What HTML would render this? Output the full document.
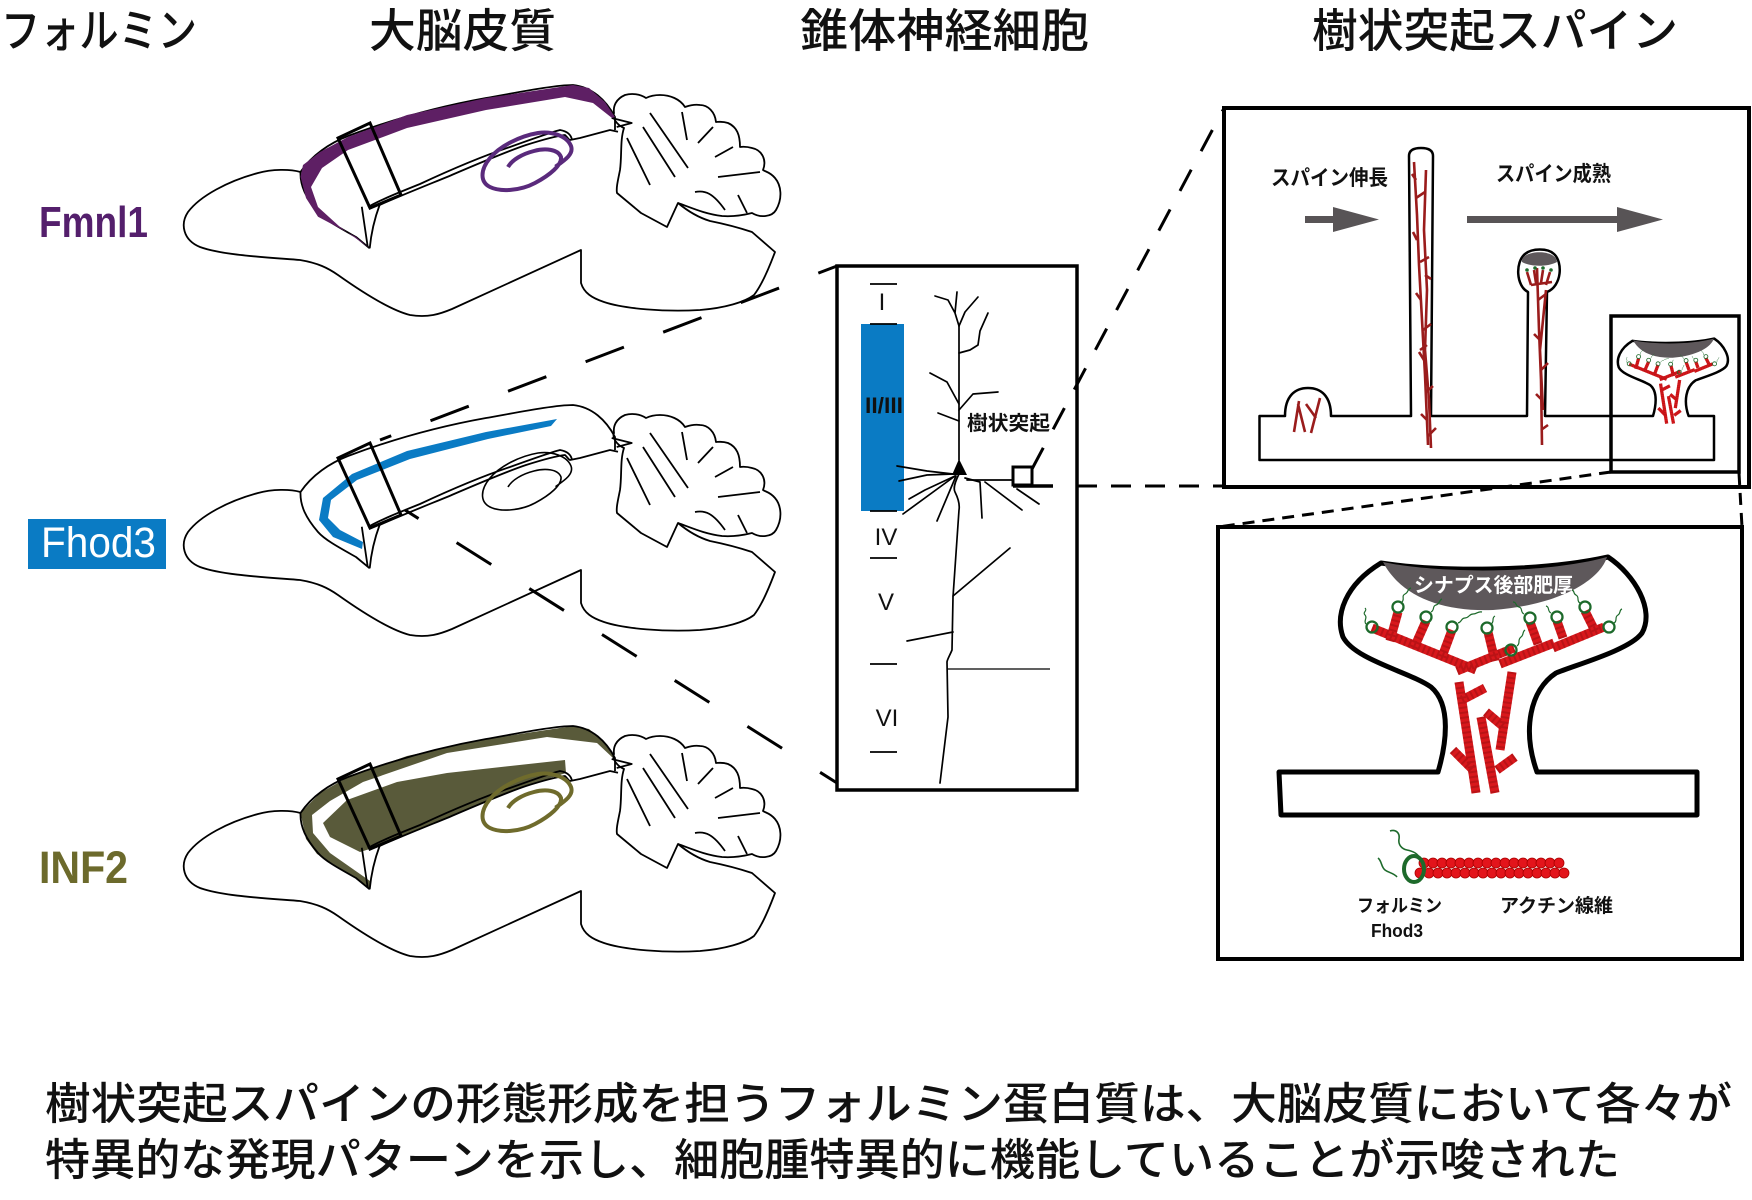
<!DOCTYPE html>
<html><head><meta charset="utf-8">
<style>
html,body{margin:0;padding:0;background:#fff;}
svg{display:block;}
.jp{font-family:"Liberation Sans","Noto Sans CJK JP",sans-serif;}
.en{font-family:"Liberation Sans",sans-serif;}
</style></head>
<body>
<svg width="1752" height="1200" viewBox="0 0 1752 1200" xmlns="http://www.w3.org/2000/svg">
<defs>
  <g id="bout" fill="none" stroke="#000" stroke-width="1.8" stroke-linejoin="round">
    <path d="M300.5,172 C290,169 272,169 258,173 C228,181 200,196 188,212 C180,224 183,240 200,247 C222,255 262,257 300,260 C318,263 328,268 338,275 C362,292 390,310 410,315 C428,318 440,314 452,309 L581,250 L581,283 C584,293 592,298 604,302 C625,309 665,312 700,310 C725,308 745,302 754,295 C762,285 769,268 775,252 L752,232 C740,228 725,224 710,221 C700,218 690,213 678,203"/>
    <path d="M369.7,248.3 L356,237 C340,228 325,220 318,212 C306,198 300,186 300.5,172 C312,155 330,143 348,136 C380,124 430,108 486,98 C520,92 555,85 573,85 C592,87 606,100 615,117 L615,130"/>
    <path d="M379.6,205 C395,198 420,188 447,177 C475,165 505,152 526,145 C545,139 556,136 565,135 C568,138 569,140 570,140 L580,138 L610,130 L618,131.7"/>
    <path d="M368,207 C380,200 400,192 420,184 C450,170 480,157 510,147 C535,138 552,132 560,130 C566,131 571,134 572,140"/>
    <path d="M361.8,206.7 L367.7,246.7 M379.6,205 C374,220 371,235 369.7,248.3"/>
    <path d="M611.7,118 L631.7,123 L616.7,127"/>
    <path d="M617,193 L641,213 L667,227 L678,203 C692,208 705,214 722,216 C735,217 748,214 752,213 C760,218 772,217 776,210 C783,198 781,185 775,178 C770,172 766,172 763,170 C767,160 762,150 752,148 C745,146 740,147 740,147 C740,135 737,127 728,123 C722,121 718,122 716,122 C715,112 708,105 700,105 C693,104 688,106 685,107 C680,99 670,95 660,95 C652,95 648,97 646,98 C640,94 632,93 625,95 C616,99 613,106 614,113 C612,118 617,125 624,128 C620,140 622,155 620,170 C618,180 616,188 617,193 Z"/>
    <path d="M627,138 L650,185 M643,127 L675,177 M650,113 L688,168 M682,112 L687,140 M698,143 L713,127 M715,157 L733,147 M718,177 L760,172 M695,192 C705,190 713,193 725,210 M738,195 L747,213"/>
  </g>
  <path id="spiral" d="M555.5,166.7 C565,160 574,154 571,146 C567,136 552,131 538,133 C520,136 500,146 490,158 C480,170 480,182 490,187 C500,192 520,191 535,183 C550,175 562,165 561,157 C558,149 545,148 534,151 C522,154 512,160 508,167"/>
  <polygon id="brect" points="338,138 370,123 401,195 370,208" fill="none" stroke="#000" stroke-width="3"/>

  <g id="filpaths">
    <path d="M1372,628 L1476,670"/>
    <path d="M1457,671 L1514,648"/>
    <path d="M1500,664 L1554,643"/>
    <path d="M1553,648 L1604,627"/>
    <path d="M1390,641 L1398,612"/>
    <path d="M1414,648 L1426,621"/>
    <path d="M1442,657 L1452,630"/>
    <path d="M1495,661 L1488,632"/>
    <path d="M1538,644 L1530,622"/>
    <path d="M1563,638 L1557,621"/>
    <path d="M1595,631 L1585,611"/>
    <path d="M1459,682 L1476,793"/>
    <path d="M1512,672 L1500,750"/>
    <path d="M1481,717 L1495,793"/>
    <path d="M1462,700 L1485,688"/>
    <path d="M1486,712 L1505,728"/>
    <path d="M1453,750 L1473,770"/>
    <path d="M1497,770 L1515,757"/>
  </g>
  <g id="act">
    <use href="#filpaths" fill="none" stroke="#d8181c" stroke-width="9"/>
    <use href="#filpaths" fill="none" stroke="#8f0c0f" stroke-width="9" stroke-dasharray="2 3" opacity="0.4"/>
    <g fill="none" stroke="#1d6a2b" stroke-width="2.3">
      <circle cx="1372" cy="627" r="5.5"/><circle cx="1398" cy="607" r="5.5"/>
      <circle cx="1426" cy="617" r="5.5"/><circle cx="1452" cy="627" r="5.5"/>
      <circle cx="1487" cy="628" r="5.5"/><circle cx="1511" cy="650" r="5.5"/>
      <circle cx="1530" cy="618" r="5.5"/><circle cx="1557" cy="617" r="5.5"/>
      <circle cx="1585" cy="607" r="5.5"/><circle cx="1609" cy="627" r="5.5"/>
    </g>
    <g fill="none" stroke="#1d6a2b" stroke-width="1.2">
      <path d="M1366,624 c-3,-3 2,-6 -1,-9 c-3,-3 3,-4 0,-7"/>
      <path d="M1402,602 c3,-3 -1,-6 3,-8 c4,-2 2,-5 6,-6"/>
      <path d="M1431,612 c4,-2 1,-6 5,-7 c4,-1 3,-5 6,-6"/>
      <path d="M1458,623 c4,-1 3,-5 7,-5 c4,0 4,-4 8,-4 c4,0 5,-3 9,-2"/>
      <path d="M1491,624 c4,-2 0,-6 4,-8"/>
      <path d="M1517,646 c4,-3 0,-6 4,-9 c3,-2 1,-5 4,-7"/>
      <path d="M1524,614 c-4,-2 -1,-6 -5,-7 c-4,-1 -2,-5 -6,-5"/>
      <path d="M1551,613 c-4,-2 -1,-6 -5,-7"/>
      <path d="M1580,603 c-4,-2 0,-6 -4,-8 c-3,-1 -1,-4 -4,-5"/>
      <path d="M1614,623 c4,-2 0,-6 4,-8 c3,-2 1,-5 4,-6"/>
    </g>
  </g>
</defs>

<!-- Titles -->
<g class="jp" font-size="46" font-weight="500" fill="#111">
  <text x="1" y="47" textLength="196" lengthAdjust="spacingAndGlyphs">フォルミン</text>
  <text x="369" y="47" textLength="187" lengthAdjust="spacingAndGlyphs">大脳皮質</text>
  <text x="800" y="47" textLength="289" lengthAdjust="spacingAndGlyphs">錐体神経細胞</text>
  <text x="1312" y="47" textLength="366" lengthAdjust="spacingAndGlyphs">樹状突起スパイン</text>
</g>

<!-- Side labels -->
<text class="en" x="39" y="237" font-size="44" font-weight="bold" fill="#541f6c" textLength="109" lengthAdjust="spacingAndGlyphs">Fmnl1</text>
<rect x="28" y="519" width="138" height="50" fill="#0a7bc4"/>
<text class="en" x="41" y="557" font-size="43" fill="#fff" textLength="115" lengthAdjust="spacingAndGlyphs">Fhod3</text>
<text class="en" x="39" y="883" font-size="45" font-weight="bold" fill="#6c6a2c" textLength="89" lengthAdjust="spacingAndGlyphs">INF2</text>

<!-- Brain 1 -->
<g>
  <use href="#bout"/>
  <polygon fill="#5e1f64" points="369.7,248.3 355.8,236.7 318,216.7 306,198 300.5,176.7 303,165 320,152 348,137 407,115 486,98 573,85 589,88 605,102 615,117 612,118 593,103 565,97 486,110 407,128 348,150 322,168 311,187 318,207 340,227 368,247"/>
  <use href="#spiral" fill="none" stroke="#5a2a7c" stroke-width="4"/>
  <use href="#brect"/>
</g>

<!-- Brain 2 -->
<g transform="translate(0,320)">
  <use href="#bout"/>
  <polygon fill="#0a7bc4" points="557,99 486,112 407,131 352,154 323,178 319,200 333,217 362,229 363,222 340,210 328,198 331,180 357,160 410,139 488,119 551,106"/>
  <use href="#spiral" fill="none" stroke="#000" stroke-width="1.6"/>
  <use href="#brect"/>
</g>

<!-- Brain 3 -->
<g transform="translate(0,641)">
  <polygon fill="#595a3a" points="369.7,248.3 356,237 317,213 306,198 300.5,172 320,152 348,136 407,115 486,98 573,85 589,88 605,102 615,117 613,117 597,102 547,96 447,112 363,141 330,160 312,174 313,192 330,212 370,240"/>
  <polygon fill="#595a3a" points="565,119 447,132 397,141 347,159 323,182 330,196 360,211 379.6,205 407,193 447,177 486,160 526,145 566,132"/>
  <use href="#bout"/>
  <use href="#spiral" fill="none" stroke="#6f6b2c" stroke-width="4"/>
  <use href="#brect"/>
</g>

<!-- Dashed lines brain -> neuron -->
<line x1="837" y1="266" x2="380" y2="440" stroke="#000" stroke-width="3" stroke-dasharray="41 42" stroke-dashoffset="21"/>
<line x1="837" y1="783" x2="405" y2="510" stroke="#000" stroke-width="3" stroke-dasharray="41 45" stroke-dashoffset="21"/>

<!-- Neuron box -->
<rect x="837" y="266" width="240" height="524" fill="none" stroke="#000" stroke-width="3.5"/>
<rect x="861" y="324" width="43" height="187" fill="#0a7bc4"/>
<g stroke="#000" stroke-width="1.8">
  <line x1="870" y1="284" x2="897" y2="284"/>
  <line x1="870" y1="324" x2="897" y2="324"/>
  <line x1="870" y1="511" x2="897" y2="511"/>
  <line x1="870" y1="558" x2="897" y2="558"/>
  <line x1="870" y1="664" x2="897" y2="664"/>
  <line x1="870" y1="752" x2="897" y2="752"/>
</g>
<g class="en" font-size="24" fill="#111" text-anchor="middle">
  <text x="882" y="310">I</text>
  <text x="886" y="545">IV</text>
  <text x="886" y="610">V</text>
  <text x="887" y="726">VI</text>
</g>
<text class="en" x="865" y="413" font-size="22" font-weight="bold" fill="#111" textLength="38" lengthAdjust="spacingAndGlyphs">II/III</text>
<g fill="none" stroke="#000" stroke-width="1.7" stroke-linecap="round" stroke-linejoin="round">
  <path d="M959,460 L959,326"/>
  <path d="M959,326 L955,313 L948,300 L935,296 M955,313 L957,292"/>
  <path d="M959,326 L965,312 L978,297"/>
  <path d="M959,353 L970,350 L978,345 L980,331 L988,313"/>
  <path d="M959,404 L947,382 L930,373"/>
  <path d="M959,410 L973,394 L998,392"/>
  <path d="M959,421 L938,413"/>
  <path d="M953,474 L927,471 L897,466"/>
  <path d="M953,474 L927,475 L899,481"/>
  <path d="M955,476 L925,490 L909,499"/>
  <path d="M955,476 L903,514"/>
  <path d="M956,476 L937,521"/>
  <path d="M965,478 L980,482 L982,518"/>
  <path d="M967,480 L1013,480"/>
  <path d="M985,482 L1022,510"/>
  <path d="M1017,489 L1039,504"/>
  <path d="M959,474 C955,482 953,488 955,492 C958,498 960,504 959,510 L953,597 L952,650 C950,655 947,660 947,662 L948,717 L940,783"/>
  <path d="M953,596 L1010,548"/>
  <path d="M953,632 L907,641"/>
</g>
<line x1="947" y1="669" x2="1050" y2="669" stroke="#000" stroke-width="1.3"/>
<path d="M959,459 L952,475 L967,475 Z" fill="#000"/>
<rect x="1013" y="467" width="19" height="18" fill="none" stroke="#000" stroke-width="3"/>
<line x1="1013" y1="486" x2="1053" y2="486" stroke="#000" stroke-width="3.5"/>
<text class="jp" x="967" y="430" font-size="20" font-weight="bold" fill="#111" textLength="83" lengthAdjust="spacingAndGlyphs">樹状突起</text>

<!-- dashed neuron -> spine box -->
<line x1="1032" y1="469" x2="1223" y2="110" stroke="#000" stroke-width="3" stroke-dasharray="24 21"/>
<line x1="1077" y1="486" x2="1224" y2="486" stroke="#000" stroke-width="3" stroke-dasharray="20 14"/>

<!-- Spine box 1 -->
<rect x="1224" y="108" width="525" height="379" fill="none" stroke="#000" stroke-width="4"/>
<g class="jp" font-size="21" font-weight="bold" fill="#111">
  <text x="1271" y="185" textLength="117" lengthAdjust="spacingAndGlyphs">スパイン伸長</text>
  <text x="1496" y="181" textLength="115" lengthAdjust="spacingAndGlyphs">スパイン成熟</text>
</g>
<polygon fill="#585456" points="1305,216 1333,216 1333,207 1379,219.5 1333,232 1333,223 1305,223"/>
<polygon fill="#585456" points="1467,216 1617,216 1617,207 1663,219.5 1617,232 1617,223 1467,223"/>
<path fill="#fff" stroke="#000" stroke-width="2.5" stroke-linejoin="round" d="M1259.5,416 L1285,416 C1285,396 1295,388 1308,388 C1321,388 1331,396 1331,416 L1411,416 L1409,156 C1409,150 1414,148 1421,148 C1428,148 1433,150 1433,156 L1431,416 L1527,416 L1528,292 C1516,286 1515,262 1525,254 C1532,248 1548,248 1554,254 C1563,262 1562,286 1547,292 L1545,416 L1653,416 C1655.9,406.3 1658,391.9 1650.5,385.4 C1642.9,380 1623.1,375.7 1618.8,367.4 C1615.9,359.5 1619.5,348.7 1632.5,340.8 C1653.7,344 1689.7,344 1714.2,338.6 C1723.9,345.1 1731.1,357.7 1726.4,366 C1722.1,372.1 1702.3,377.5 1695.5,380.4 C1686.1,386.5 1683.2,400.9 1688.6,416 L1714,416 L1714,460 L1259.5,460 Z"/>
<path fill="#5e585b" d="M1522,262 C1520,250 1556,248 1557,262 C1548,267 1530,267 1522,262 Z"/>
<g transform="translate(1135.3,138.1) scale(0.36)">
  <path fill="#5e585b" d="M1383,562 C1440,574 1545,574 1607,557 C1600,580 1560,605 1493,610 C1440,612 1400,595 1383,562 Z"/>
  <use href="#act"/>
</g>
<g fill="none" stroke="#9a1c1c" stroke-width="2.6">
  <path d="M1294,432 L1299,401 M1305,432 L1298,404 M1311,433 L1320,398 M1316,418 L1306,404"/>
  <path d="M1414,162 L1417,215 L1419,265 L1422,320 L1425,375 L1428,445"/>
  <path d="M1426,170 L1424,230 L1427,290 L1425,350 L1429,400 L1431,448"/>
  <path d="M1416,198 l9,-6 M1417,240 l-4,-8 M1420,262 l9,-5 M1421,300 l-5,-7 M1423,330 l8,-6 M1424,360 l-5,-8 M1426,392 l7,-6 M1427,420 l-6,-6 M1428,436 l8,-8 M1425,275 l6,4 M1427,345 l-7,5 M1416,180 l-4,-6"/>
  <path d="M1537,268 L1539,330 L1541,380 L1542,445 M1546,290 L1540,350 L1543,410"/>
  <path d="M1538,300 l8,-6 M1540,340 l-6,-6 M1541,370 l7,-7 M1542,400 l-6,-6 M1541,430 l7,-5 M1527,272 L1531,285 M1534,270 L1536,283 M1543,270 L1541,283 M1550,272 L1546,285 M1531,285 L1552,282"/>
</g>
<g fill="#1d6a2b"><circle cx="1527" cy="270" r="1.8"/><circle cx="1535" cy="268" r="1.8"/><circle cx="1543" cy="268" r="1.8"/><circle cx="1551" cy="270" r="1.8"/></g>
<rect x="1611" y="316" width="128" height="156" fill="none" stroke="#000" stroke-width="3.5"/>

<!-- dashed to bottom box -->
<line x1="1611" y1="472" x2="1218" y2="527" stroke="#000" stroke-width="3" stroke-dasharray="12 8"/>
<line x1="1739" y1="473" x2="1742" y2="527" stroke="#000" stroke-width="3" stroke-dasharray="12 8"/>

<!-- Spine box 2 -->
<rect x="1218" y="527" width="524" height="432" fill="none" stroke="#000" stroke-width="4"/>
<path fill="#fff" stroke="#000" stroke-width="5" stroke-linejoin="round" d="M1279,772 L1438,772 C1446,745 1452,705 1431,687 C1410,672 1355,660 1343,637 C1335,615 1345,585 1381,563 C1440,572 1540,572 1608,557 C1635,575 1655,610 1642,633 C1630,650 1575,665 1556,673 C1530,690 1522,730 1537,772 L1697,772 L1697,815 L1281,815 Z"/>
<path fill="#5e585b" d="M1383,562 C1440,574 1545,574 1607,557 C1600,580 1560,605 1493,610 C1440,612 1400,595 1383,562 Z"/>
<text class="jp" x="1414" y="592" font-size="20" font-weight="bold" fill="#fff" textLength="159" lengthAdjust="spacingAndGlyphs">シナプス後部肥厚</text>
<use href="#act"/>

<!-- legend -->
<g fill="#e3141b" stroke="#a00" stroke-width="0.8">
  <circle cx="1420" cy="873" r="5"/><circle cx="1429" cy="873" r="5"/><circle cx="1438" cy="873" r="5"/><circle cx="1447" cy="873" r="5"/><circle cx="1456" cy="873" r="5"/><circle cx="1465" cy="873" r="5"/><circle cx="1474" cy="873" r="5"/><circle cx="1483" cy="873" r="5"/><circle cx="1492" cy="873" r="5"/><circle cx="1501" cy="873" r="5"/><circle cx="1510" cy="873" r="5"/><circle cx="1519" cy="873" r="5"/><circle cx="1528" cy="873" r="5"/><circle cx="1537" cy="873" r="5"/><circle cx="1546" cy="873" r="5"/><circle cx="1555" cy="873" r="5"/><circle cx="1564" cy="873" r="5"/>
  <circle cx="1424" cy="863" r="5"/><circle cx="1433" cy="863" r="5"/><circle cx="1442" cy="863" r="5"/><circle cx="1451" cy="863" r="5"/><circle cx="1460" cy="863" r="5"/><circle cx="1469" cy="863" r="5"/><circle cx="1478" cy="863" r="5"/><circle cx="1487" cy="863" r="5"/><circle cx="1496" cy="863" r="5"/><circle cx="1505" cy="863" r="5"/><circle cx="1514" cy="863" r="5"/><circle cx="1523" cy="863" r="5"/><circle cx="1532" cy="863" r="5"/><circle cx="1541" cy="863" r="5"/><circle cx="1550" cy="863" r="5"/><circle cx="1559" cy="863" r="5"/>
</g>
<ellipse cx="1414" cy="869" rx="10" ry="13" fill="none" stroke="#1d6a2b" stroke-width="4"/>
<g fill="none" stroke="#1d6a2b" stroke-width="1.6">
  <path d="M1390,831 c6,-2 10,2 9,8 c-1,6 3,10 8,11 c5,1 10,3 12,7"/>
  <path d="M1378,858 c4,3 3,9 7,12 c4,3 9,3 12,7"/>
</g>
<g class="jp" font-weight="bold" fill="#111">
  <text x="1357" y="912" font-size="18" textLength="85" lengthAdjust="spacingAndGlyphs">フォルミン</text>
  <text x="1500" y="912" font-size="19" textLength="113" lengthAdjust="spacingAndGlyphs">アクチン線維</text>
</g>
<text class="en" x="1371" y="937" font-size="18" font-weight="bold" fill="#111" textLength="52" lengthAdjust="spacingAndGlyphs">Fhod3</text>

<!-- Bottom caption -->
<g class="jp" font-size="44" font-weight="500" fill="#111">
  <text x="45" y="1119" textLength="1687" lengthAdjust="spacingAndGlyphs">樹状突起スパインの形態形成を担うフォルミン蛋白質は、大脳皮質において各々が</text>
  <text x="45" y="1175" textLength="1575" lengthAdjust="spacingAndGlyphs">特異的な発現パターンを示し、細胞腫特異的に機能していることが示唆された</text>
</g>
</svg>
</body></html>
